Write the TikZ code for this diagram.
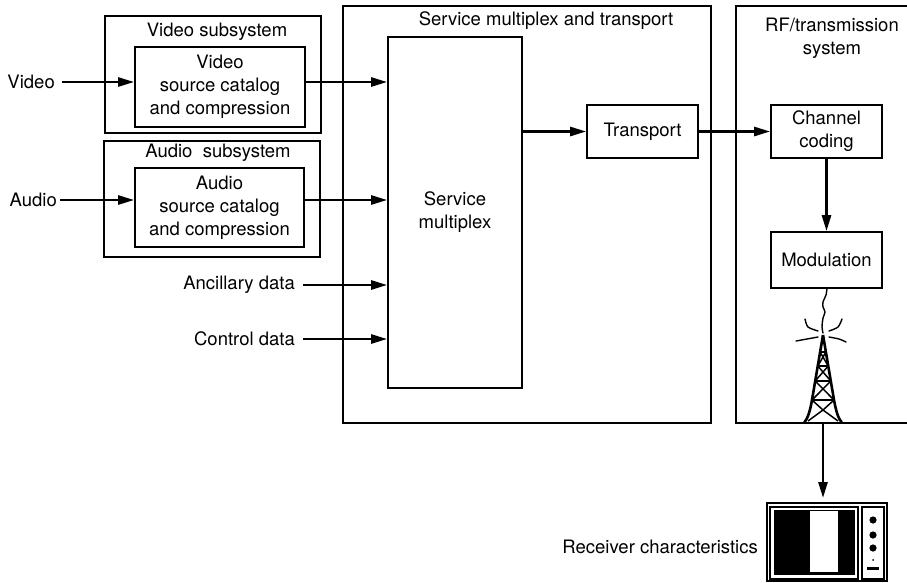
\documentclass[tikz,border=0pt]{standalone}
\usepackage{fontspec}
\setmainfont{TeX Gyre Heros}
\usetikzlibrary{arrows.meta}

\tikzset{
	blk/.style={draw, line width=1.7pt, align=center, inner sep=0pt},
	lbl/.style={inner sep=0pt, align=center},
	frame/.style={line width=1.4pt},
	flow/.style={line width=2.6pt, -{Triangle[length=16pt,width=9pt]}},
	wire/.style={line width=1.4pt, line cap=round},
}

\begin{document}
\begin{tikzpicture}[x=1pt, y=-1pt, font=\fontsize{18.5}{23}\selectfont]
		\useasboundingbox (0,0) rectangle (907,582);
		
		%%%%% SUBSYSTEMS %%%%%
		
		\draw[frame] (105,16) rectangle (321,133);
		\node[lbl] (vtitle) at (217,32) {Video subsystem};
		\node[blk, minimum width=170pt, minimum height=80pt] (vsrc) at (220,87) {Video\\source catalog\\and compression};
		
		\draw[frame] (104,141) rectangle (320,257);
		\node[lbl] (atitle) at (218,153) {Audio\ \ subsystem};
		\node[blk, minimum width=169pt, minimum height=79pt] (asrc) at (219.5,207.5) {Audio\\source catalog\\and compression};
		
		\node[lbl, anchor=east] (vin) at (55,82) {Video};
		\node[lbl, anchor=east] (ain) at (57,200) {Audio};
		\node[lbl, anchor=east] (anc) at (295,285) {Ancillary data};
		\node[lbl, anchor=east] (ctl) at (295,339) {Control data};
		
		%%%%% MULTIPLEX AND TRANSPORT %%%%%
		
		\draw[frame] (343,6) rectangle (711,423);
		\node[lbl] (mtitle) at (546,21) {Service multiplex and transport};
		\node[blk, minimum width=134pt, minimum height=351pt] (mux) at (455,212.5) {Service\\multiplex};
		\node[blk, minimum width=111pt, minimum height=53pt] (trans) at (642.5,131.5) {Transport};
		
		%%%%% RF %%%%%
		
		\draw[frame] (908,6) -- (736,6) -- (736,423) -- (908,423);
		\node[lbl] (rtitle) at (832,38) {RF/transmission\\system};
		\node[blk, minimum width=111pt, minimum height=53pt] (chan) at (826.5,131.5) {Channel\\coding};
		\node[blk, minimum width=111pt, minimum height=56pt] (modul) at (826.5,260) {Modulation};
		
		%%%%% FLOWS %%%%%
		
		\draw[flow] ([xshift=7pt]vin.east) -- (vin -| vsrc.west);
		\draw[flow] ([xshift=3pt]ain.east) -- (ain -| asrc.west);
		\draw[flow] (vin -| vsrc.east) -- (vin -| mux.west);
		\draw[flow] (ain -| asrc.east) -- (ain -| mux.west);
		\draw[flow] ([xshift=8pt]anc.east) -- (anc -| mux.west);
		\draw[flow] ([xshift=8pt]ctl.east) -- (ctl -| mux.west);
		\draw[flow] (trans -| mux.east) -- (trans.west);
		\draw[flow] (trans.east) -- (chan.west);
		\draw[flow] (chan.south) -- (modul.north);
		
		%%%%% TOWER %%%%%
		
		\coordinate (apex) at (823,335);
		\coordinate (base) at (823,423);
		\draw[wire] plot[smooth] coordinates {(827,288) (826,295) (823,302) (823,307) (825,312) (823,318) (822,327) (823,333)};
		\draw[wire] plot[smooth] coordinates {(805,319) (808,327) (818,331)};
		\draw[wire] plot[smooth] coordinates {(796,341) (807,339) (818,337)};
		\draw[wire] plot[smooth] coordinates {(842,319) (838,327) (829,331)};
		\draw[wire] plot[smooth] coordinates {(829,337) (839,339) (846,342)};
		
		\draw[line width=2.6pt] (apex) -- (812,400) .. controls (810,411) and (808,418) .. (804,423);
		\draw[line width=2.6pt] (apex) -- (834,400) .. controls (836,411) and (838,418) .. (842,423);
		\foreach \ya/\wa/\yb/\wb in {352/2.9/366/5.2, 366/5.2/381/7.8, 381/7.8/400/11} {
			\draw[line width=1.5pt] (823-\wa,\ya) -- (823+\wa,\ya);
			\draw[line width=1.5pt] (823-\wa,\ya) -- (823+\wb,\yb);
			\draw[line width=1.5pt] (823+\wa,\ya) -- (823-\wb,\yb);
		}
		\draw[line width=1.5pt] (812,400) -- (834,400);
		\draw[line width=1.5pt] (812,400) -- (823,410) -- (834,400);
		\draw[line width=1.5pt] (808,421) -- (823,410) -- (838,421);
		
		%%%%% RECEIVER %%%%%
		
		\coordinate (tv) at (823,498);
		\draw[flow] (base) -- (tv);
		\node[lbl, anchor=east] (rx) at (758,547) {Receiver characteristics};
		
		\draw[line width=1.6pt] (767,503) rectangle (887,581);
		\draw[line width=1.1pt] (770,507) rectangle (858,579);
		\fill (774,510) rectangle (855,575);
		\fill[white] (810,511) rectangle (838,572);
		\draw[line width=1.1pt] (862,507) rectangle (884,579);
		\foreach \yc in {520,535,548}
			\fill (873,\yc) circle (3.6);
		\fill (873,560) circle (1);
		\fill (867,567) rectangle (879,570);
		
\end{tikzpicture}
\end{document}
